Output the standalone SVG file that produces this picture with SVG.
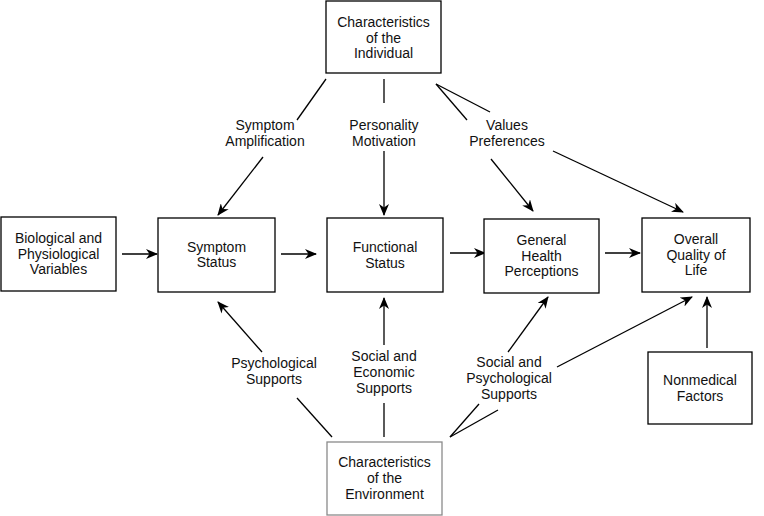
<svg xmlns="http://www.w3.org/2000/svg" width="764" height="516" viewBox="0 0 764 516">
<style>
  rect.box { fill: #fff; stroke: #000; stroke-width: 1.3; }
  rect.env { fill: #fff; stroke: #8a8a8a; stroke-width: 1.3; }
  text { font-family: "Liberation Sans", Arial, sans-serif; font-size: 14px; fill: #111; text-anchor: middle; }
  #connectors line { stroke: #000; stroke-width: 1.3; fill: none; }
  #connectors line.arr { marker-end: url(#ah); }
</style>
<defs>
  <marker id="ah" viewBox="0 0 12 10" refX="11" refY="5" markerWidth="12" markerHeight="10" markerUnits="userSpaceOnUse" orient="auto">
    <path d="M0,0 L12,5 L0,10 L3.5,5 z" fill="#000"/>
  </marker>
</defs>
<rect width="764" height="516" fill="#fff"/>

<g id="connectors">
  <!-- from Characteristics of the Individual -->
  <line x1="326" y1="79" x2="297" y2="120"/>
  <line class="arr" x1="263" y1="157" x2="218" y2="215"/>
  <line x1="384" y1="79" x2="384" y2="103"/>
  <line class="arr" x1="384" y1="151" x2="384" y2="215"/>
  <line x1="436" y1="84" x2="467" y2="120"/>
  <line x1="436" y1="84" x2="490" y2="112"/>
  <line class="arr" x1="491" y1="159" x2="533" y2="211"/>
  <line class="arr" x1="553" y1="151" x2="683" y2="212"/>
  <!-- horizontal chain -->
  <line class="arr" x1="122" y1="254" x2="157" y2="254"/>
  <line class="arr" x1="281" y1="254" x2="316" y2="254"/>
  <line class="arr" x1="450" y1="253" x2="485" y2="253"/>
  <line class="arr" x1="605" y1="253" x2="640" y2="253"/>
  <!-- from Characteristics of the Environment -->
  <line x1="332" y1="437" x2="297" y2="398"/>
  <line class="arr" x1="262" y1="352" x2="218" y2="302"/>
  <line x1="384" y1="437" x2="384" y2="403"/>
  <line class="arr" x1="384" y1="345" x2="384" y2="298"/>
  <line x1="450" y1="437" x2="479" y2="404"/>
  <line x1="450" y1="437" x2="498" y2="410"/>
  <line class="arr" x1="508" y1="352" x2="548" y2="297"/>
  <line class="arr" x1="557" y1="367" x2="692" y2="297"/>
  <!-- Nonmedical -->
  <line class="arr" x1="707" y1="348" x2="707" y2="297"/>
</g>

<g id="labels">
  <text x="265" y="130">Symptom</text>
  <text x="265" y="146">Amplification</text>
  <text x="384" y="130">Personality</text>
  <text x="384" y="146">Motivation</text>
  <text x="507" y="130">Values</text>
  <text x="507" y="146">Preferences</text>
  <text x="274" y="368">Psychological</text>
  <text x="274" y="384">Supports</text>
  <text x="384" y="361">Social and</text>
  <text x="384" y="377">Economic</text>
  <text x="384" y="393">Supports</text>
  <text x="509" y="367">Social and</text>
  <text x="509" y="383">Psychological</text>
  <text x="509" y="399">Supports</text>
</g>

<g id="individual">
  <rect class="box" x="326" y="1" width="115" height="72"/>
  <text x="383.5" y="27">Characteristics</text>
  <text x="383.5" y="42.5">of the</text>
  <text x="383.5" y="58">Individual</text>
</g>
<g id="biological">
  <rect class="box" x="1" y="217" width="115" height="74"/>
  <text x="58.5" y="243">Biological and</text>
  <text x="58.5" y="258.5">Physiological</text>
  <text x="58.5" y="274">Variables</text>
</g>
<g id="symptom">
  <rect class="box" x="158" y="218" width="117" height="74"/>
  <text x="216.5" y="251.5">Symptom</text>
  <text x="216.5" y="267">Status</text>
</g>
<g id="functional">
  <rect class="box" x="327" y="218" width="116" height="74"/>
  <text x="385" y="252">Functional</text>
  <text x="385" y="267.5">Status</text>
</g>
<g id="health">
  <rect class="box" x="484" y="219" width="115" height="74"/>
  <text x="541.5" y="245">General</text>
  <text x="541.5" y="260.5">Health</text>
  <text x="541.5" y="276">Perceptions</text>
</g>
<g id="overall">
  <rect class="box" x="642" y="218" width="108" height="74"/>
  <text x="696" y="244">Overall</text>
  <text x="696" y="259.5">Quality of</text>
  <text x="696" y="275">Life</text>
</g>
<g id="nonmedical">
  <rect class="box" x="648" y="352" width="104" height="72"/>
  <text x="700" y="385">Nonmedical</text>
  <text x="700" y="401">Factors</text>
</g>
<g id="environment">
  <rect class="env" x="327" y="442" width="115" height="73"/>
  <text x="384.5" y="467">Characteristics</text>
  <text x="384.5" y="483">of the</text>
  <text x="384.5" y="499">Environment</text>
</g>
</svg>
